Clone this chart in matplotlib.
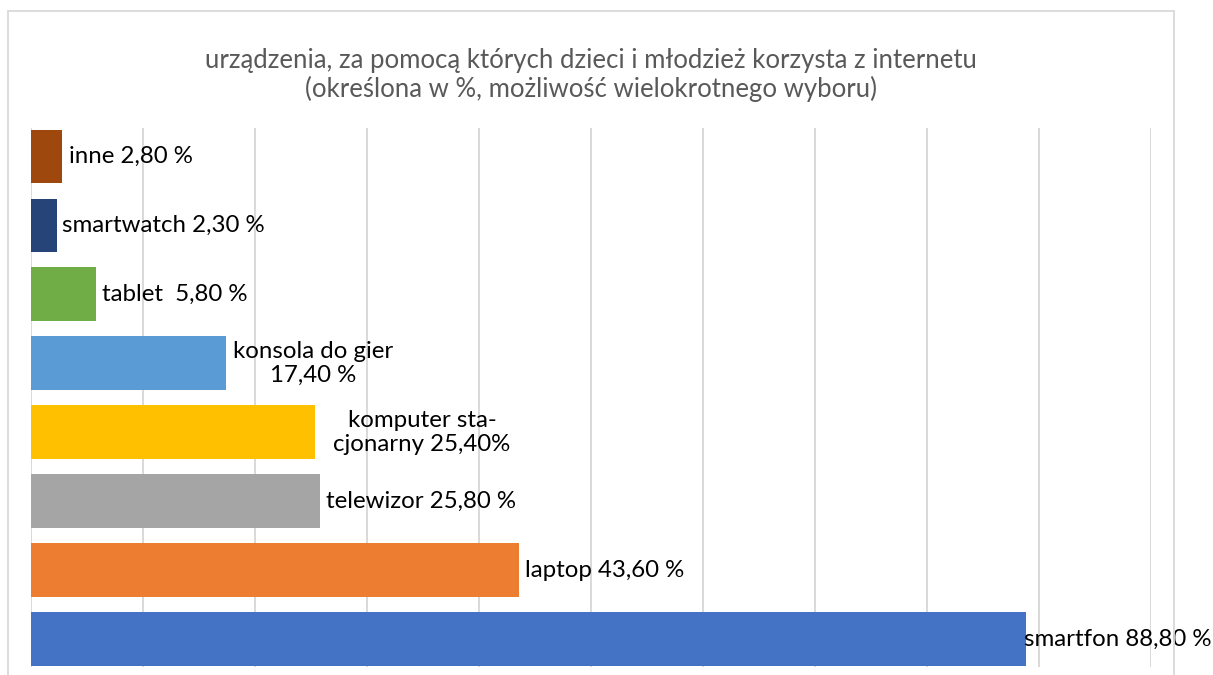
import matplotlib
matplotlib.use("Agg")
import matplotlib.pyplot as plt
from matplotlib.patches import Rectangle

categories = ["smartfon", "laptop", "telewizor", "komputer stacjonarny",
              "konsola do gier", "tablet", "smartwatch", "inne"]
values = [88.8, 43.6, 25.8, 25.4, 17.4, 5.8, 2.3, 2.8]
labels = ["smartfon 88,80 %", "laptop 43,60 %", "telewizor 25,80 %",
          "komputer sta-\ncjonarny 25,40%", "konsola do gier\n17,40 %",
          "tablet  5,80 %", "smartwatch 2,30 %", "inne 2,80 %"]
colors = ["#4472C4", "#ED7D31", "#A5A5A5", "#FFC000", "#5B9BD5",
          "#70AD47", "#264478", "#9E480E"]
ticks = list(range(0, 101, 10))
title = ("urządzenia, za pomocą których dzieci i młodzież korzysta z internetu\n"
         "(określona w %, możliwość wielokrotnego wyboru)")

W, H = 1213, 675
fig = plt.figure(figsize=(W / 100, H / 100), dpi=100)
fig.patch.set_facecolor("white")

# chart frame
fig.add_artist(Rectangle((8 / W, -0.05), (1174 - 8) / W, (H - 11) / H + 0.05,
                         transform=fig.transFigure, fill=False,
                         edgecolor="#d9d9d9", linewidth=1.3))

ax = fig.add_axes([31 / W, (H - 667) / H, (1151 - 31) / W, (667 - 128) / H])
ax.set_xlim(0, 100)
ax.set_ylim(-0.406, 7.413)
for t in ticks:
    ax.axvline(t, color="#d9d9d9", linewidth=1.4, zorder=0)

y = list(range(len(categories)))
ax.barh(y, values, height=0.78, color=colors, zorder=2)

font = "Lato"
offsets = [-0.1, 0.5, 0.5, 1.6, 0.6, 0.5, 0.5, 0.6]
for i, (v, lab) in enumerate(zip(values, labels)):
    ax.text(v + offsets[i], i, lab, ha="left", va="center", fontsize=17.3,
            family=font, color="#000000", multialignment="center",
            clip_on=False, zorder=3, linespacing=1.17)

for s in ax.spines.values():
    s.set_visible(False)
ax.set_xticks([])
ax.set_yticks([])
ax.patch.set_alpha(0)

fig.text(591 / W, 1 - 75 / H, title, ha="center", va="center",
         fontsize=18.5, family=font, color="#595959", linespacing=1.17)

fig.savefig("out.png", dpi=100)
